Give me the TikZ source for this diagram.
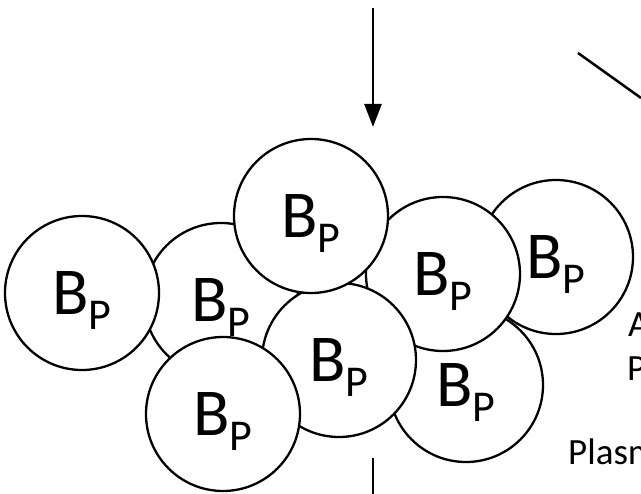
\documentclass[tikz,border=0pt]{standalone}
\usepackage{fontspec}
\setmainfont{Carlito}
\usetikzlibrary{arrows.meta}
\newcommand{\bp}{B\raisebox{-15pt}{\fontsize{44}{44}\selectfont P}}

\begin{document}
\begin{tikzpicture}[x=1pt,y=-1pt]
      \useasboundingbox (0,0) rectangle (641,494);
      \clip (0,0) rectangle (641,494);
      \begin{scope}[every node/.style={circle,draw,line width=2.3pt,fill=white,
          minimum size=154pt,inner sep=0pt,text depth=0pt,
          font=\fontsize{67}{70}\selectfont}]
        \node (8) at (466,385) {\bp};
        \node (7) at (556,257) {\bp};
        \node (6) at (443,274) {\bp};
        \node (2) at (221,300) {\bp};
        \node (1) at (82,293) {\bp};
        \node (5) at (339,360) {\bp};
        \node (3) at (311,216) {\bp};
        \node (4) at (223,414) {\bp};
      \end{scope}
      \begin{scope}[every node/.style={anchor=base west,inner sep=0pt,
          font=\fontsize{37}{40}\selectfont}]
        \node (a) at (628,337) {A};
        \node (p) at (627,381) {P};
        \node (plasm) at (568,465) {Plasm};
      \end{scope}
      \coordinate (in) at (373,8);
      \coordinate (tip) at (373,127);
      \coordinate (out) at (373,458);
      \coordinate (end) at (373,500);
      \coordinate (d1) at (578,53);
      \coordinate (d2) at (700,95);
      \draw[line width=2.5pt,-{Triangle[width=17pt,length=23pt]}] (in) -- (tip);
      \draw[line width=2.5pt] (out) -- (end);
      \draw[line width=2.5pt] (d1) -- (641,98);
    \end{tikzpicture}
\end{document}
